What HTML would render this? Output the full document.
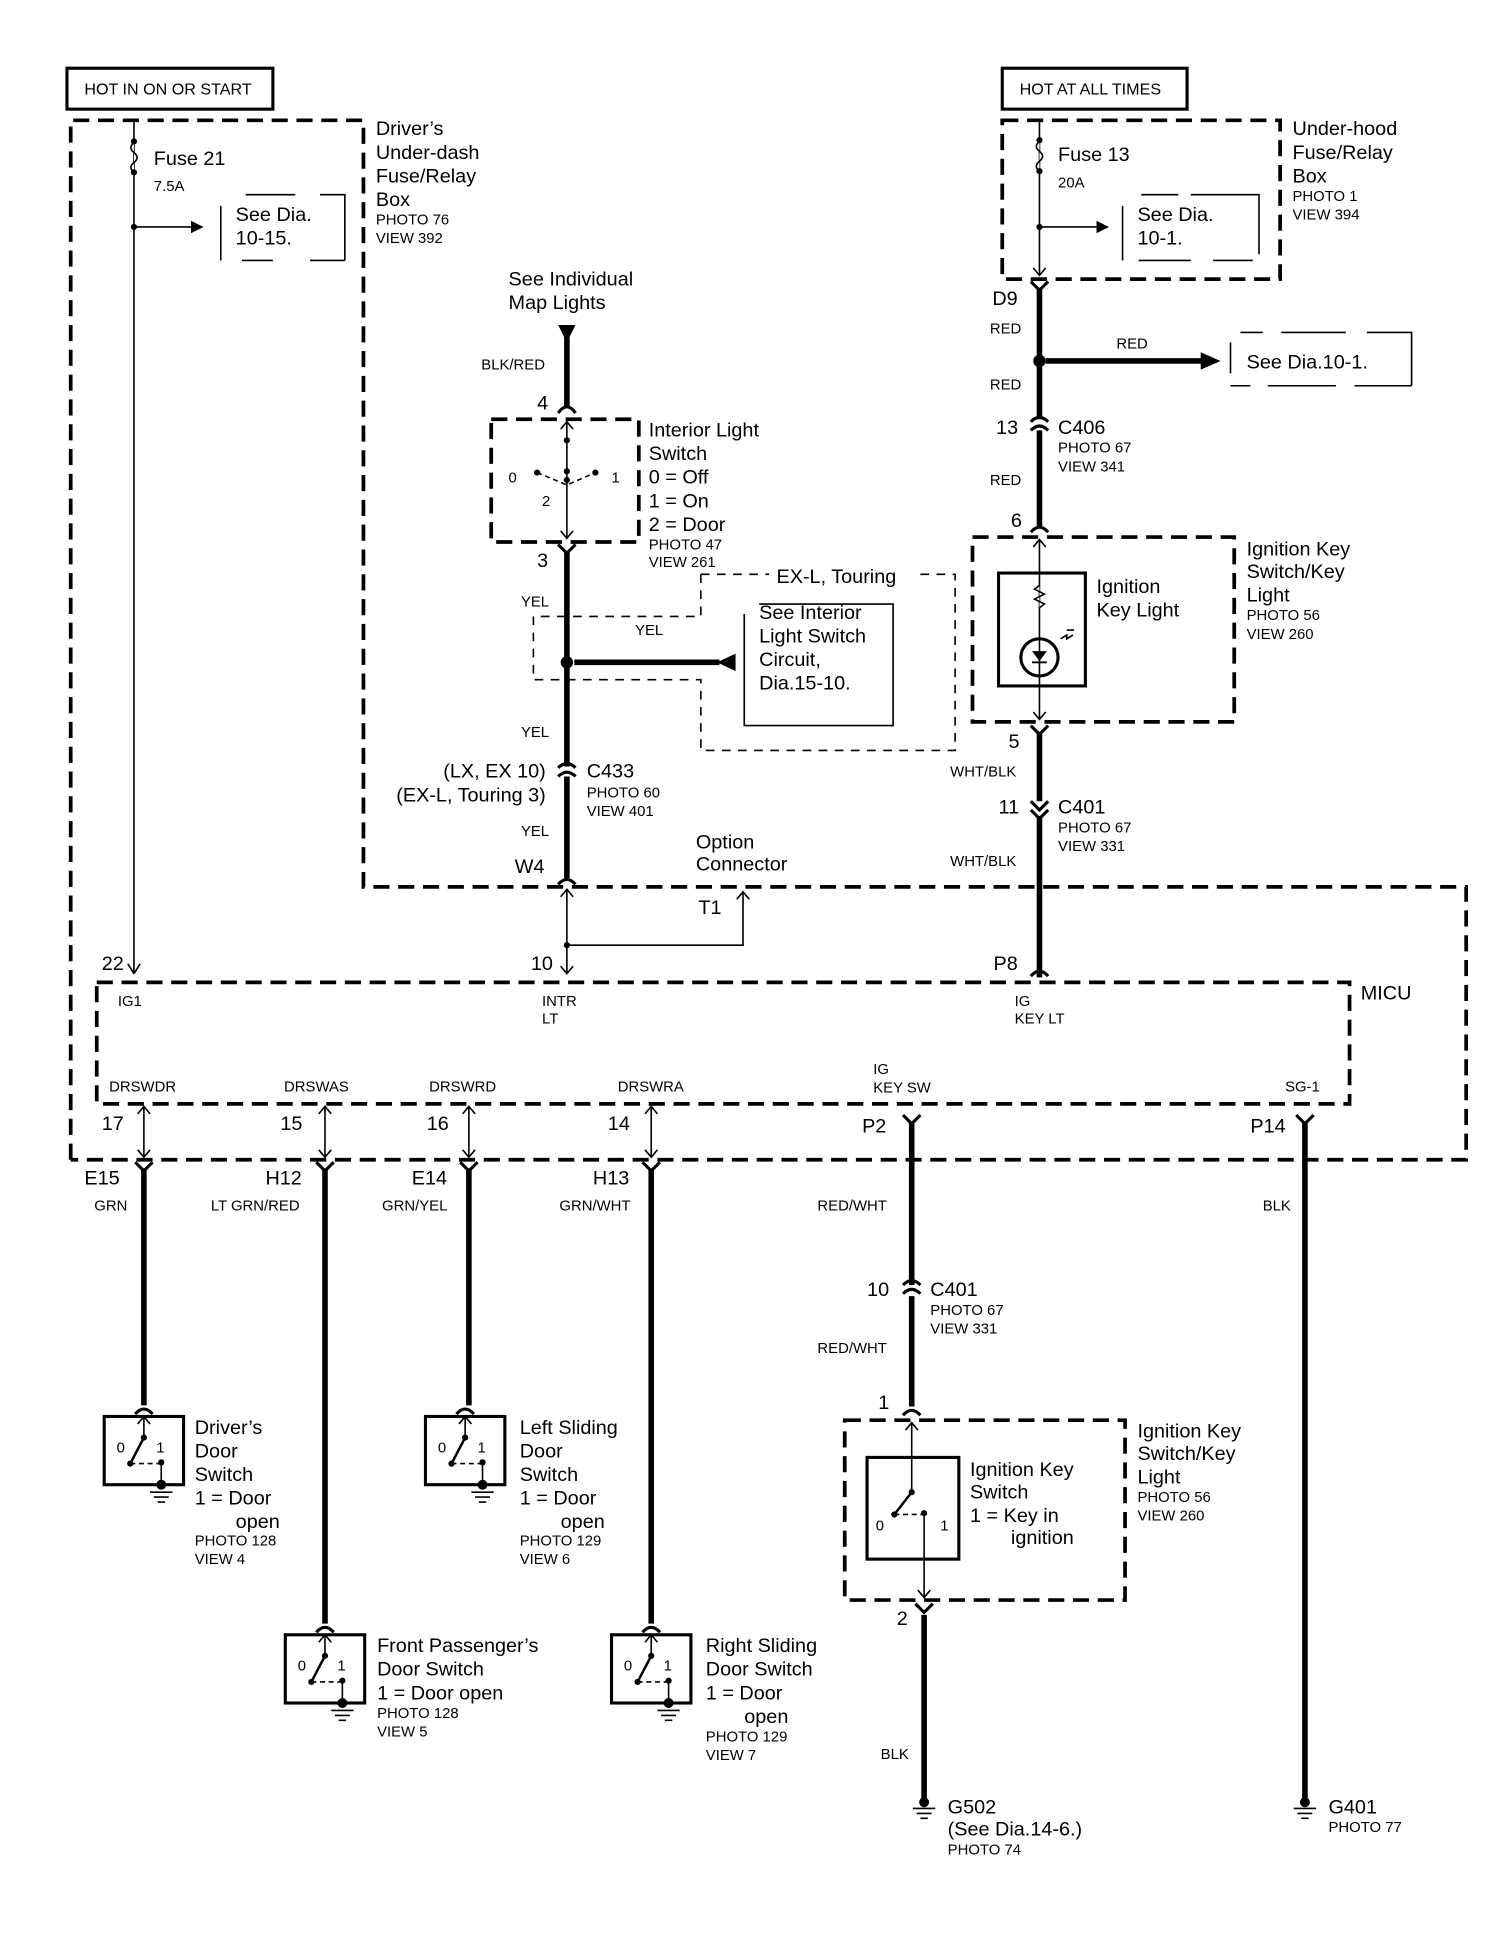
<!DOCTYPE html>
<html><head><meta charset="utf-8"><style>
html,body{margin:0;padding:0;background:#fff}
svg{display:block}
text{font-family:"Liberation Sans",Arial,sans-serif;fill:#000}
.b{font-size:16px}
.s{font-size:12px}
.m{font-size:13px}
.tk{stroke:#000;stroke-width:4.5;fill:none}
.tn{stroke:#000;stroke-width:1.3;fill:none}
.db{stroke:#000;stroke-width:3;fill:none;stroke-dasharray:13 7}
.dt{stroke:#000;stroke-width:1.3;fill:none;stroke-dasharray:7 6}
.sb{stroke:#000;stroke-width:2.5;fill:none}
.cn{stroke:#000;stroke-width:2.5;fill:none}
</style></head><body>
<svg width="1504" height="1944" viewBox="0 0 1212.5 1567.3" preserveAspectRatio="none" xmlns="http://www.w3.org/2000/svg">
<defs>
<marker id="ah" markerWidth="10" markerHeight="10" refX="9" refY="5" orient="auto" markerUnits="userSpaceOnUse"><path d="M0,0 L10,5 L0,10 z" fill="#000"/></marker>
</defs>

<!-- header boxes -->
<rect x="54" y="55" width="166" height="33" class="sb" stroke-width="2"/>
<text x="68" y="76" class="m">HOT IN ON OR START</text>
<rect x="808" y="55" width="149" height="33" class="sb" stroke-width="2"/>
<text x="822" y="76" class="m">HOT AT ALL TIMES</text>

<!-- big outer dashed boundary -->
<path class="db" d="M57,935 L57,97 L293,97 L293,715 L1182,715 L1182,935 L57,935"/>
<!-- MICU -->
<path class="db" d="M78,792 L1088,792 L1088,890 L78,890 Z"/>
<text x="1097" y="806" class="b">MICU</text>

<!-- Fuse 21 -->
<line class="tn" x1="108" y1="97" x2="108" y2="785"/>
<path d="M108,115 q-5,4 0,8 q5,4 0,8 q-5,4 0,8" fill="#fff" stroke="#000" stroke-width="1.3"/>
<circle cx="108" cy="114" r="2.5"/><circle cx="108" cy="139" r="2.5"/><circle cx="108" cy="183" r="2.5"/>
<path d="M108,785 l-5,-8 M108,785 l5,-8" class="tn"/>
<line class="tn" x1="108" y1="183" x2="163" y2="183" marker-end="url(#ah)"/>
<text x="124" y="133" class="b">Fuse 21</text>
<text x="124" y="154" class="s">7.5A</text>
<path class="tn" d="M178,166 L178,210 M198,157 L238,157 M258,157 L278,157 L278,210 M195,210 L220,210 M250,210 L278,210"/>
<text x="190" y="178" class="b">See Dia.</text>
<text x="190" y="197" class="b">10-15.</text>
<text x="303" y="109" class="b">Driver’s</text>
<text x="303" y="128" class="b">Under-dash</text>
<text x="303" y="147" class="b">Fuse/Relay</text>
<text x="303" y="166" class="b">Box</text>
<text x="303" y="181" class="s">PHOTO 76</text>
<text x="303" y="196" class="s">VIEW 392</text>

<!-- interior light column -->
<text x="410" y="230" class="b">See Individual</text>
<text x="410" y="249" class="b">Map Lights</text>
<path d="M450,262 L464,262 L457,276 z"/>
<line class="tk" x1="457" y1="270" x2="457" y2="328"/>
<text x="388" y="298" class="s">BLK/RED</text>
<text x="433" y="330" class="b">4</text>
<path class="cn" d="M450,333 Q457,323 464,333"/>
<path class="db" d="M396,338 L515,338 L515,437 L396,437 Z"/>
<line class="tn" x1="457" y1="340" x2="457" y2="434"/>
<path class="tn" d="M452,346 L457,340 L462,346 M452,428 L457,434 L462,428"/>
<circle cx="457" cy="355" r="2.5"/><circle cx="457" cy="380" r="2.5"/><circle cx="457" cy="387" r="2.5"/>
<circle cx="433" cy="381" r="2.5"/><circle cx="480" cy="381" r="2.5"/>
<path class="tn" d="M433,381 L457,391 L480,381" stroke-dasharray="4 3"/>
<text x="410" y="389" class="s">0</text><text x="493" y="389" class="s">1</text><text x="437" y="408" class="s">2</text>
<text x="523" y="352" class="b">Interior Light</text>
<text x="523" y="371" class="b">Switch</text>
<text x="523" y="390" class="b">0 = Off</text>
<text x="523" y="409" class="b">1 = On</text>
<text x="523" y="428" class="b">2 = Door</text>
<text x="523" y="443" class="s">PHOTO 47</text>
<text x="523" y="457" class="s">VIEW 261</text>
<path class="cn" d="M450,439 L457,446 L464,439"/>
<text x="433" y="457" class="b">3</text>
<line class="tk" x1="457" y1="444" x2="457" y2="618"/>
<text x="420" y="489" class="s">YEL</text>
<!-- EX-L dashed area -->
<path class="dt" d="M565,463 L620,463 M742,463 L770,463 L770,605 L565,605 L565,548 L430,548 L430,497 L565,497 L565,463"/>
<text x="626" y="470" class="b">EX-L, Touring</text>
<text x="512" y="512" class="s">YEL</text>
<circle cx="457" cy="534" r="5"/>
<line class="tk" x1="463" y1="534" x2="580" y2="534"/>
<path d="M578,534 L593,527 L593,541 z"/>
<path class="tn" d="M600,495 L600,585 L720,585 L720,487 L612,487" />
<text x="612" y="499" class="b">See Interior</text>
<text x="612" y="518" class="b">Light Switch</text>
<text x="612" y="537" class="b">Circuit,</text>
<text x="612" y="556" class="b">Dia.15-10.</text>
<text x="420" y="594" class="s">YEL</text>
<path class="cn" d="M450,619 Q457,612 464,619 M450,626 Q457,619 464,626"/>
<line class="tk" x1="457" y1="626" x2="457" y2="708"/>
<text x="440" y="627" class="b" text-anchor="end">(LX, EX 10)</text>
<text x="440" y="646" class="b" text-anchor="end">(EX-L, Touring 3)</text>
<text x="473" y="627" class="b">C433</text>
<text x="473" y="643" class="s">PHOTO 60</text>
<text x="473" y="658" class="s">VIEW 401</text>
<text x="420" y="674" class="s">YEL</text>
<text x="415" y="704" class="b">W4</text>
<path class="cn" d="M450,713 Q457,705 464,713"/>
<text x="561" y="684" class="b">Option</text>
<text x="561" y="702" class="b">Connector</text>
<text x="563" y="737" class="b">T1</text>
<line class="tn" x1="457" y1="717" x2="457" y2="785"/>
<path class="tn" d="M452,723 L457,717 L462,723 M452,779 L457,785 L462,779"/>
<circle cx="457" cy="762" r="2.5"/>
<path class="tn" d="M457,762 L599,762 L599,719 M594,725 L599,719 L604,725"/>
<text x="428" y="782" class="b">10</text>
<text x="82" y="782" class="b">22</text>

<!-- right column top -->
<path class="db" d="M808,97 L1032,97 L1032,225 L808,225 Z"/>
<line class="tn" x1="838" y1="97" x2="838" y2="222"/>
<path d="M838,114 q-5,4 0,8 q5,4 0,8 q-5,4 0,8" fill="#fff" stroke="#000" stroke-width="1.3"/>
<circle cx="838" cy="113" r="2.5"/><circle cx="838" cy="138" r="2.5"/><circle cx="838" cy="183" r="2.5"/>
<line class="tn" x1="838" y1="183" x2="893" y2="183" marker-end="url(#ah)"/>
<path class="tn" d="M833,216 L838,222 L843,216"/>
<text x="853" y="130" class="b">Fuse 13</text>
<text x="853" y="151" class="s">20A</text>
<path class="tn" d="M905,166 L905,210 M920,157 L950,157 M960,157 L1015,157 L1015,205 M918,210 L960,210 M978,210 L1010,210"/>
<text x="917" y="178" class="b">See Dia.</text>
<text x="917" y="197" class="b">10-1.</text>
<text x="1042" y="109" class="b">Under-hood</text>
<text x="1042" y="128" class="b">Fuse/Relay</text>
<text x="1042" y="147" class="b">Box</text>
<text x="1042" y="162" class="s">PHOTO 1</text>
<text x="1042" y="177" class="s">VIEW 394</text>
<path class="cn" d="M831,227 L838,234 L845,227"/>
<line class="tk" x1="838" y1="232" x2="838" y2="338"/>
<text x="800" y="246" class="b">D9</text>
<text x="798" y="269" class="s">RED</text>
<circle cx="838" cy="291" r="5"/>
<line class="tk" x1="843" y1="291" x2="970" y2="291"/>
<path d="M968,284 L984,291 L968,298 z"/>
<text x="900" y="281" class="s">RED</text>
<path class="tn" d="M992,276 L992,301 M1000,268 L1018,268 M1033,268 L1085,268 M1102,268 L1138,268 L1138,311 M992,311 L1008,311 M1022,311 L1077,311 M1092,311 L1138,311"/>
<text x="1005" y="297" class="b">See Dia.10-1.</text>
<text x="798" y="314" class="s">RED</text>
<text x="803" y="350" class="b">13</text>
<path class="cn" d="M831,340 Q838,333 845,340 M831,347 Q838,340 845,347"/>
<line class="tk" x1="838" y1="347" x2="838" y2="424"/>
<text x="853" y="350" class="b">C406</text>
<text x="853" y="365" class="s">PHOTO 67</text>
<text x="853" y="380" class="s">VIEW 341</text>
<text x="798" y="391" class="s">RED</text>
<text x="815" y="425" class="b">6</text>
<path class="cn" d="M831,429 Q838,421 845,429"/>
<path class="db" d="M784,433 L995,433 L995,582 L784,582 Z"/>
<rect x="805" y="462" width="70" height="91" fill="none" stroke="#000" stroke-width="2.5"/>
<line class="tn" x1="838" y1="435" x2="838" y2="580"/>
<path class="tn" d="M833,441 L838,435 L843,441 M833,574 L838,580 L843,574"/>
<path d="M838,472 l-4,3 l8,4 l-8,4 l8,4 l-4,3" fill="#fff" stroke="#000" stroke-width="1.3"/>
<circle cx="838" cy="530" r="15" fill="#fff" stroke="#000" stroke-width="2.5"/>
<line class="tn" x1="838" y1="515" x2="838" y2="545"/>
<path d="M832,525 L844,525 L838,533 z"/><line x1="832" y1="534" x2="844" y2="534" stroke="#000" stroke-width="1.5"/>
<path class="tn" d="M855,515 l5,-3 l0,3 l5,-3 M860,508 l6,0"/>
<text x="884" y="478" class="b">Ignition</text>
<text x="884" y="497" class="b">Key Light</text>
<text x="1005" y="448" class="b">Ignition Key</text>
<text x="1005" y="466" class="b">Switch/Key</text>
<text x="1005" y="485" class="b">Light</text>
<text x="1005" y="500" class="s">PHOTO 56</text>
<text x="1005" y="515" class="s">VIEW 260</text>
<path class="cn" d="M831,585 L838,592 L845,585"/>
<line class="tk" x1="838" y1="590" x2="838" y2="646"/>
<text x="813" y="603" class="b">5</text>
<text x="766" y="626" class="s">WHT/BLK</text>
<text x="805" y="656" class="b">11</text>
<path class="cn" d="M831,646 L838,653 L845,646 M831,653 L838,660 L845,653"/>
<line class="tk" x1="838" y1="658" x2="838" y2="788"/>
<text x="853" y="656" class="b">C401</text>
<text x="853" y="671" class="s">PHOTO 67</text>
<text x="853" y="686" class="s">VIEW 331</text>
<text x="766" y="698" class="s">WHT/BLK</text>
<text x="801" y="782" class="b">P8</text>
<path class="cn" d="M831,787 Q838,779 845,787"/>

<!-- MICU labels -->
<text x="95" y="811" class="s">IG1</text>
<text x="437" y="811" class="s">INTR</text><text x="437" y="825" class="s">LT</text>
<text x="818" y="811" class="s">IG</text><text x="818" y="825" class="s">KEY LT</text>
<text x="88" y="880" class="s">DRSWDR</text>
<text x="229" y="880" class="s">DRSWAS</text>
<text x="346" y="880" class="s">DRSWRD</text>
<text x="498" y="880" class="s">DRSWRA</text>
<text x="704" y="866" class="s">IG</text><text x="704" y="881" class="s">KEY SW</text>
<text x="1036" y="880" class="s">SG-1</text>

<!-- pins below MICU -->
<text x="82" y="911" class="b">17</text>
<text x="226" y="911" class="b">15</text>
<text x="344" y="911" class="b">16</text>
<text x="490" y="911" class="b">14</text>
<text x="695" y="913" class="b">P2</text>
<text x="1008" y="913" class="b">P14</text>
<g class="tn">
<path d="M116,892 L116,933 M111,898 L116,892 L121,898 M111,927 L116,933 L121,927"/>
<path d="M262,892 L262,933 M257,898 L262,892 L267,898 M257,927 L262,933 L267,927"/>
<path d="M378,892 L378,933 M373,898 L378,892 L383,898 M373,927 L378,933 L383,927"/>
<path d="M525,892 L525,933 M520,898 L525,892 L530,898 M520,927 L525,933 L530,927"/>
</g>
<g class="cn">
<path d="M109,937 L116,944 L123,937"/><path d="M255,937 L262,944 L269,937"/>
<path d="M371,937 L378,944 L385,937"/><path d="M518,937 L525,944 L532,937"/>
<path d="M728,899 L735,906 L742,899"/><path d="M1045,899 L1052,906 L1059,899"/>
</g>
<text x="68" y="955" class="b">E15</text>
<text x="214" y="955" class="b">H12</text>
<text x="332" y="955" class="b">E14</text>
<text x="478" y="955" class="b">H13</text>
<text x="76" y="976" class="s">GRN</text>
<text x="170" y="976" class="s">LT GRN/RED</text>
<text x="308" y="976" class="s">GRN/YEL</text>
<text x="451" y="976" class="s">GRN/WHT</text>
<text x="659" y="976" class="s">RED/WHT</text>
<text x="1018" y="976" class="s">BLK</text>
<g class="tk">
<line x1="116" y1="942" x2="116" y2="1133"/>
<line x1="262" y1="942" x2="262" y2="1309"/>
<line x1="378" y1="942" x2="378" y2="1133"/>
<line x1="525" y1="942" x2="525" y2="1309"/>
<line x1="735" y1="904" x2="735" y2="1036"/>
<line x1="735" y1="1045" x2="735" y2="1134"/>
<line x1="1052" y1="904" x2="1052" y2="1450"/>
<line x1="745" y1="1302" x2="745" y2="1450"/>
</g>

<!-- door switches -->
<g id="sw1">
<path class="cn" d="M109,1140 Q116,1132 123,1140"/>
<rect x="84" y="1142" width="64" height="55" fill="none" stroke="#000" stroke-width="2.5"/>
<path class="tn" d="M111,1148 L116,1142 L121,1148 M116,1142 L116,1159"/>
<circle cx="116" cy="1159" r="2.5"/><circle cx="105" cy="1180" r="2.5"/><circle cx="130" cy="1179" r="2.5"/>
<path d="M116,1159 L105,1180" stroke="#000" stroke-width="2"/>
<path class="tn" d="M105,1180 L130,1180" stroke-dasharray="4 3"/>
<path class="tn" d="M130,1179 L130,1197"/>
<circle cx="130" cy="1197" r="4"/>
<path class="tn" d="M121,1203 L139,1203 M124,1207 L136,1207 M127,1211 L133,1211"/>
<text x="94" y="1171" class="s">0</text><text x="126" y="1171" class="s">1</text>
</g>
<use href="#sw1" x="259" y="0"/>
<use href="#sw1" x="146" y="176"/>
<use href="#sw1" x="409" y="176"/>
<text x="157" y="1156" class="b">Driver’s</text>
<text x="157" y="1175" class="b">Door</text>
<text x="157" y="1194" class="b">Switch</text>
<text x="157" y="1213" class="b">1 = Door</text>
<text x="190" y="1232" class="b">open</text>
<text x="157" y="1246" class="s">PHOTO 128</text>
<text x="157" y="1261" class="s">VIEW 4</text>
<text x="419" y="1156" class="b">Left Sliding</text>
<text x="419" y="1175" class="b">Door</text>
<text x="419" y="1194" class="b">Switch</text>
<text x="419" y="1213" class="b">1 = Door</text>
<text x="452" y="1232" class="b">open</text>
<text x="419" y="1246" class="s">PHOTO 129</text>
<text x="419" y="1261" class="s">VIEW 6</text>
<text x="304" y="1332" class="b">Front Passenger’s</text>
<text x="304" y="1351" class="b">Door Switch</text>
<text x="304" y="1370" class="b">1 = Door open</text>
<text x="304" y="1385" class="s">PHOTO 128</text>
<text x="304" y="1400" class="s">VIEW 5</text>
<text x="569" y="1332" class="b">Right Sliding</text>
<text x="569" y="1351" class="b">Door Switch</text>
<text x="569" y="1370" class="b">1 = Door</text>
<text x="600" y="1389" class="b">open</text>
<text x="569" y="1404" class="s">PHOTO 129</text>
<text x="569" y="1419" class="s">VIEW 7</text>

<!-- ignition key switch -->
<text x="699" y="1045" class="b">10</text>
<path class="cn" d="M728,1036 Q735,1029 742,1036 M728,1043 Q735,1036 742,1043"/>
<text x="750" y="1045" class="b">C401</text>
<text x="750" y="1060" class="s">PHOTO 67</text>
<text x="750" y="1075" class="s">VIEW 331</text>
<text x="659" y="1091" class="s">RED/WHT</text>
<text x="708" y="1136" class="b">1</text>
<path class="cn" d="M728,1141 Q735,1133 742,1141"/>
<path class="db" d="M681,1145 L907,1145 L907,1290 L681,1290 Z"/>
<rect x="699" y="1175" width="74" height="82" fill="none" stroke="#000" stroke-width="2.5"/>
<path class="tn" d="M735,1147 L735,1203 M730,1153 L735,1147 L740,1153"/>
<circle cx="735" cy="1203" r="2.5"/><circle cx="721" cy="1221" r="2.5"/><circle cx="745" cy="1220" r="2.5"/>
<path d="M735,1203 L721,1221" stroke="#000" stroke-width="2"/>
<path class="tn" d="M721,1221 L745,1221" stroke-dasharray="4 3"/>
<path class="tn" d="M745,1220 L745,1288 M740,1282 L745,1288 L750,1282"/>
<text x="706" y="1234" class="s">0</text><text x="758" y="1234" class="s">1</text>
<text x="782" y="1190" class="b">Ignition Key</text>
<text x="782" y="1208" class="b">Switch</text>
<text x="782" y="1227" class="b">1 =  Key in</text>
<text x="815" y="1245" class="b">ignition</text>
<text x="917" y="1159" class="b">Ignition Key</text>
<text x="917" y="1177" class="b">Switch/Key</text>
<text x="917" y="1196" class="b">Light</text>
<text x="917" y="1211" class="s">PHOTO 56</text>
<text x="917" y="1226" class="s">VIEW 260</text>
<path class="cn" d="M738,1293 L745,1300 L752,1293"/>
<text x="723" y="1310" class="b">2</text>
<text x="710" y="1418" class="s">BLK</text>

<!-- grounds -->
<circle cx="745" cy="1453" r="4"/>
<path class="tn" d="M736,1458 L754,1458 M739,1462 L751,1462 M742,1466 L748,1466"/>
<text x="764" y="1462" class="b">G502</text>
<text x="764" y="1480" class="b">(See Dia.14-6.)</text>
<text x="764" y="1495" class="s">PHOTO 74</text>
<circle cx="1052" cy="1453" r="4"/>
<path class="tn" d="M1043,1458 L1061,1458 M1046,1462 L1058,1462 M1049,1466 L1055,1466"/>
<text x="1071" y="1462" class="b">G401</text>
<text x="1071" y="1477" class="s">PHOTO 77</text>
</svg>
</body></html>
